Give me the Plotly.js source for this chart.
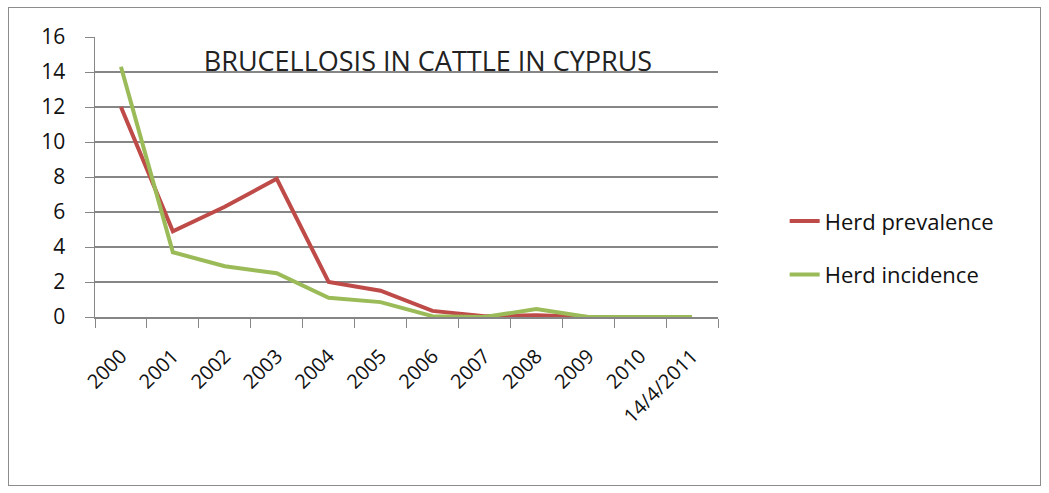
<!DOCTYPE html>
<html>
<head>
<meta charset="utf-8">
<script src="https://cdn.plot.ly/plotly-3.0.1.min.js"></script>
<style>
  html, body { margin: 0; padding: 0; background: #fff; }
  #wrap { position: relative; width: 1049px; height: 493px; }
  #chart { width: 1049px; height: 493px; }
  #frame { position: absolute; left: 8px; top: 7px; width: 1031px; height: 477px; border: 1px solid #8c8c8c; pointer-events: none; }
</style>
</head>
<body>
<div id="wrap">
  <div id="chart"></div>
  <div id="frame"></div>
</div>
<script>
const categories = ["2000", "2001", "2002", "2003", "2004", "2005", "2006", "2007", "2008", "2009", "2010", "14/4/2011"];
const herdPrevalence = [12.0, 4.9, 6.3, 7.9, 2.0, 1.5, 0.35, 0.05, 0.1, 0.0, 0.0, 0.0];
const herdIncidence = [14.3, 3.7, 2.9, 2.5, 1.1, 0.85, 0.05, 0.0, 0.45, 0.0, 0.0, 0.0];
const yTicks = [0, 2, 4, 6, 8, 10, 12, 14, 16];

const font = "Open Sans, Noto Sans, sans-serif";

const traces = [
  { x: categories, y: herdPrevalence, name: "Herd prevalence", type: "scatter", mode: "lines",
    legendgroup: "a", line: { color: "#BE4B48", width: 4 } },
  { x: categories, y: herdIncidence, name: "Herd incidence", type: "scatter", mode: "lines",
    legendgroup: "b", line: { color: "#9BBB59", width: 4 } }
];

const layout = {
  width: 1049, height: 493,
  margin: { l: 95, r: 331, t: 37, b: 176 },
  paper_bgcolor: "#ffffff", plot_bgcolor: "#ffffff",
  title: { text: "BRUCELLOSIS IN CATTLE IN CYPRUS", font: { family: font, size: 27, color: "#222" },
           x: 0.408, xanchor: "center", xref: "container", y: 0.876, yanchor: "middle", yref: "container" },
  xaxis: {
    type: "category", range: [-0.5, 11.5], tickson: "boundaries", ticks: "outside", ticklen: 9, tickcolor: "#868686",
    showline: true, linecolor: "#868686", linewidth: 1.5, showgrid: false, zeroline: false,
    tickangle: -45, ticklabelstandoff: 18, tickfont: { family: font, size: 20, color: "#111" }
  },
  yaxis: {
    range: [0, 16], tickvals: yTicks, ticks: "outside", ticklen: 9, tickcolor: "#868686",
    showline: true, linecolor: "#868686", linewidth: 1.5, gridcolor: "#868686", gridwidth: 1.5,
    zeroline: false, ticklabelstandoff: 15, tickfont: { family: font, size: 21, color: "#111" }
  },
  showlegend: true,
  legend: { x: 1.107, y: 0.246, xanchor: "left", yanchor: "middle", traceorder: "grouped",
            font: { family: font, size: 22, color: "#111" }, tracegroupgap: 22 }
};

Plotly.newPlot("chart", traces, layout, { staticPlot: true, displayModeBar: false });
</script>
</body>
</html>
